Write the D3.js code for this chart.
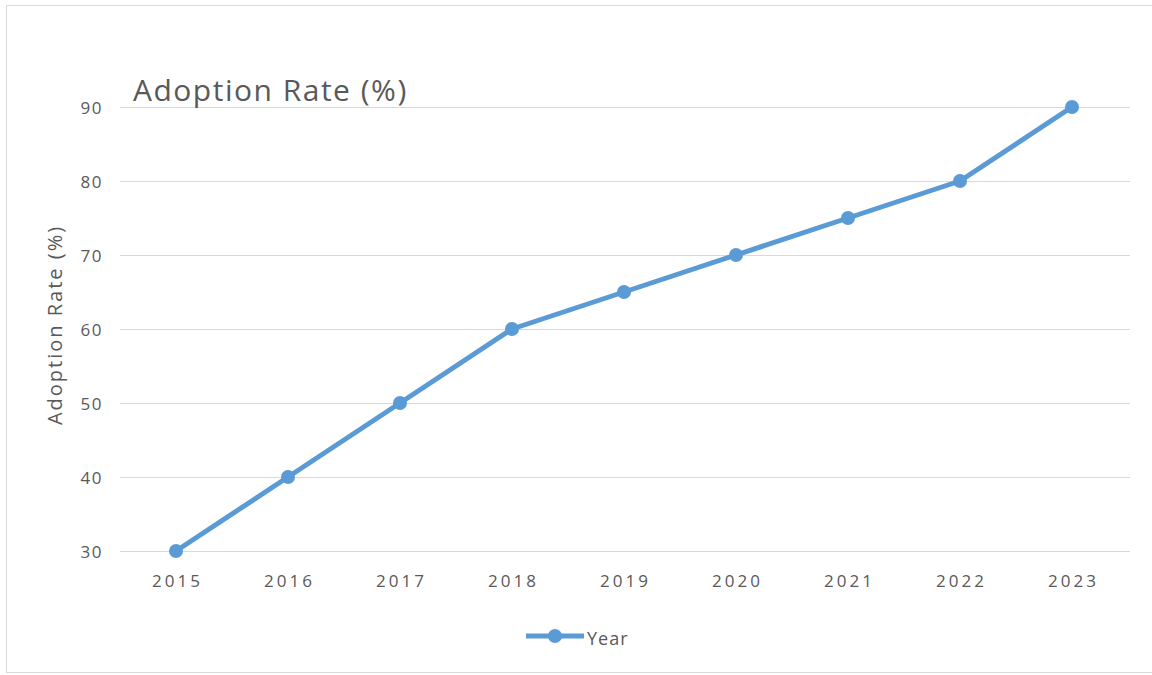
<!DOCTYPE html>
<html>
<head>
  <meta charset="utf-8">
  <style>
  body {
    margin: 0;
    background: #ffffff;
    font-family: "Open Sans", "Noto Sans", sans-serif;
  }
  .axis .domain { display: none; }
  .axis .tick line { display: none; }
  .axis text {
    fill: #595959;
    font-family: "Open Sans", "Noto Sans", sans-serif;
    font-size: 17px;
  }
  .grid line {
    stroke: #d9d9d9;
    stroke-width: 1px;
  }
  </style>
</head>
<body>
  <div id="chart"></div>
  <script src="https://d3js.org/d3.v7.min.js"></script>
  <script>
  // chart values
  const years = ["2015", "2016", "2017", "2018", "2019", "2020", "2021", "2022", "2023"];
  const adoption = [30, 40, 50, 60, 65, 70, 75, 80, 90];
  const yTicks = [30, 40, 50, 60, 70, 80, 90];
  const seriesName = "Year";
  const titleText = "Adoption Rate (%)";
  const yTitle = "Adoption Rate (%)";

  const W = 1152, H = 675;
  const color = "#5b9bd5";

  const svg = d3.select("#chart").append("svg")
      .attr("width", W)
      .attr("height", H);

  // chart frame
  svg.append("rect")
      .attr("x", 6.5)
      .attr("y", 5.5)
      .attr("width", W + 10)
      .attr("height", 667)
      .attr("fill", "none")
      .attr("stroke", "#d9d9d9");

  var x = d3.scalePoint()
      .domain(years)
      .range([120, 1128])
      .padding(0.5);

  var y = d3.scaleLinear()
      .domain([30, 90])
      .range([551, 107]);

  // gridlines
  svg.append("g")
      .attr("class", "grid")
    .selectAll("line")
      .data(yTicks)
    .enter().append("line")
      .attr("x1", 120)
      .attr("x2", 1130)
      .attr("y1", d => Math.round(y(d)) + 0.5)
      .attr("y2", d => Math.round(y(d)) + 0.5);

  var y_axis = d3.axisLeft(y).tickValues(yTicks).tickSize(0).tickPadding(0);
  svg.append("g")
      .attr("class", "y axis")
      .attr("transform", "translate(103,1)")
      .call(y_axis)
      .selectAll("text")
      .style("letter-spacing", "1.5px");

  var x_axis = d3.axisBottom(x).tickSize(0).tickPadding(0);
  svg.append("g")
      .attr("class", "x axis")
      .attr("transform", "translate(1,575)")
      .call(x_axis)
      .selectAll("text")
      .style("letter-spacing", "3px");

  // title
  svg.append("text")
      .attr("x", 133)
      .attr("y", 101)
      .attr("fill", "#595959")
      .style("font-size", "30px")
      .style("letter-spacing", "1.5px")
      .text(titleText);

  // y axis title
  svg.append("text")
      .attr("transform", "translate(62,325) rotate(-90)")
      .attr("text-anchor", "middle")
      .attr("fill", "#595959")
      .style("font-size", "20px")
      .style("letter-spacing", "2px")
      .text(yTitle);

  // series line
  var line = d3.line()
      .x((d, i) => x(years[i]))
      .y(d => y(d));

  svg.append("path")
      .datum(adoption)
      .attr("d", line)
      .attr("fill", "none")
      .attr("stroke", color)
      .attr("stroke-width", 5)
      .attr("stroke-linejoin", "round");

  svg.selectAll("circle.pt")
      .data(adoption)
    .enter().append("circle")
      .attr("class", "pt")
      .attr("cx", (d, i) => x(years[i]))
      .attr("cy", d => y(d))
      .attr("r", 7)
      .attr("fill", color);

  // legend
  var legend = svg.append("g").attr("transform", "translate(526,636)");
  legend.append("line")
      .attr("x1", 0).attr("x2", 58)
      .attr("stroke", color)
      .attr("stroke-width", 5);
  legend.append("circle")
      .attr("cx", 29)
      .attr("r", 7)
      .attr("fill", color);
  legend.append("text")
      .attr("x", 61)
      .attr("y", 9)
      .attr("fill", "#595959")
      .style("font-size", "18px")
      .style("letter-spacing", "1px")
      .text(seriesName);
  </script>
</body>
</html>
